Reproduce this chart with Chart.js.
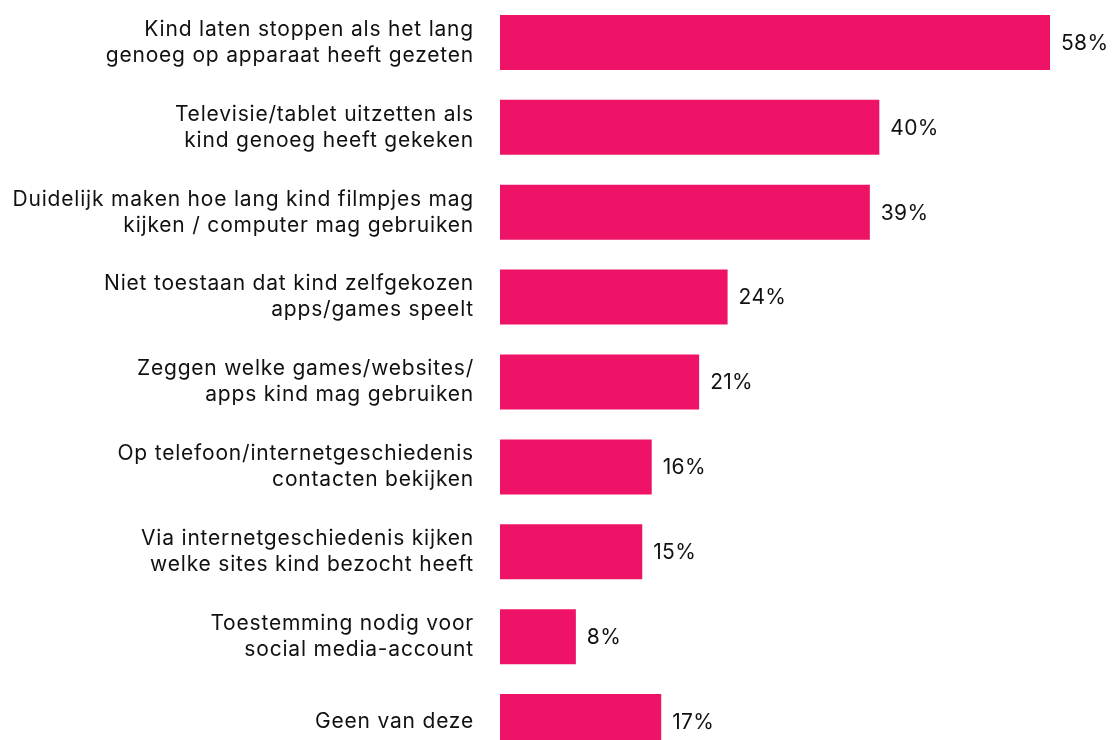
<!DOCTYPE html>
<html>
<head>
<meta charset="utf-8">
<style>
  html, body { margin: 0; padding: 0; background: #fff; overflow: hidden; }
  #wrap { position: relative; width: 1114px; height: 764px; }
</style>
<script src="https://cdn.jsdelivr.net/npm/chart.js@4/dist/chart.umd.min.js"></script>
</head>
<body>
<div id="wrap"><canvas id="c"></canvas></div>
<script>
const categories = [
  ["Kind laten stoppen als het lang", "genoeg op apparaat heeft gezeten"],
  ["Televisie/tablet uitzetten als", "kind genoeg heeft gekeken"],
  ["Duidelijk maken hoe lang kind filmpjes mag", "kijken / computer mag gebruiken"],
  ["Niet toestaan dat kind zelfgekozen", "apps/games speelt"],
  ["Zeggen welke games/websites/", "apps kind mag gebruiken"],
  ["Op telefoon/internetgeschiedenis", "contacten bekijken"],
  ["Via internetgeschiedenis kijken", "welke sites kind bezocht heeft"],
  ["Toestemming nodig voor", "social media-account"],
  "Geen van deze"
];
const percentages = [58, 40, 39, 24, 21, 16, 15, 8, 17];

const FONT = "Inter, 'Noto Sans', sans-serif";
const SPACING = '0.8px';

// Slightly widened letter spacing for the category labels
const spacing = {
  id: 'spacing',
  beforeLayout(chart) { chart.ctx.letterSpacing = SPACING; },
  beforeDraw(chart) { chart.ctx.letterSpacing = SPACING; }
};

// Draws "NN%" just past the end of each bar
const valueLabels = {
  id: 'valueLabels',
  afterDatasetsDraw(chart) {
    const ctx = chart.ctx;
    const meta = chart.getDatasetMeta(0);
    ctx.save();
    ctx.letterSpacing = '0.3px';
    ctx.font = "21px " + FONT;
    ctx.fillStyle = '#111';
    ctx.textAlign = 'left';
    ctx.textBaseline = 'middle';
    meta.data.forEach((bar, i) => {
      ctx.fillText(percentages[i] + '%', bar.x + 11, bar.y + 1);
    });
    ctx.restore();
  }
};

new Chart(document.getElementById('c'), {
  type: 'bar',
  data: {
    labels: categories,
    datasets: [{
      data: percentages,
      backgroundColor: '#EE1366',
      borderWidth: 0,
      barPercentage: 0.648,
      categoryPercentage: 1.0
    }]
  },
  options: {
    indexAxis: 'y',
    responsive: true,
    maintainAspectRatio: false,
    animation: false,
    layout: { padding: { top: 0, bottom: 0, left: 0, right: 45 } },
    plugins: { legend: { display: false }, tooltip: { enabled: false } },
    scales: {
      x: {
        display: false,
        min: 0,
        max: 60
      },
      y: {
        border: { display: false },
        grid: { display: false, drawTicks: false },
        ticks: {
          color: '#111',
          padding: 26,
          font: { family: FONT, size: 21, lineHeight: 1.24 }
        },
        afterFit(scale) {
          scale.width = 500;
          scale.paddingTop = 0;
          scale.paddingBottom = 0;
        }
      }
    }
  },
  plugins: [spacing, valueLabels]
});
</script>
</body>
</html>
